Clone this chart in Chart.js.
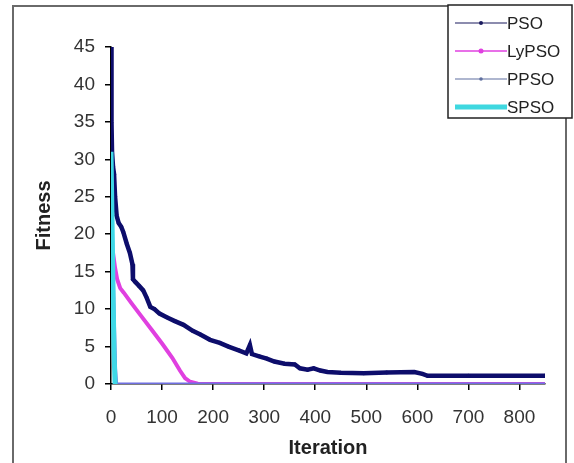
<!DOCTYPE html>
<html>
<head>
<meta charset="utf-8">
<script src="https://cdn.jsdelivr.net/npm/chart.js@4"></script>
<style>
    html, body { margin: 0; padding: 0; background: #fff; }
    #wrap { position: relative; width: 574px; height: 463px; overflow: hidden; }
    #frame { position: absolute; left: 12px; top: 5px; width: 551px; height: 470px; border: 2px solid #6a6a6a; }
    #chart { position: absolute; left: 0; top: 0; }
</style>
</head>
<body>
<div id="wrap">
    <div id="frame"></div>
    <canvas id="chart" width="574" height="463"></canvas>
</div>
<script>
// values
const psoIter = [0, 1, 2, 4, 6, 8, 11, 15, 20, 24, 31, 37, 42, 43, 48, 55, 63, 70, 77, 85, 95, 109, 125, 142, 160, 175, 194, 213, 230, 250, 265, 272, 276, 290, 305, 320, 340, 360, 370, 385, 397, 410, 424, 450, 495, 540, 594, 610, 620, 700, 850];
const psoFit  = [45, 35, 31, 29, 28, 25, 22.5, 21.5, 21, 20.3, 18.7, 17.5, 16, 14, 13.6, 13.1, 12.5, 11.5, 10.3, 10.0, 9.4, 8.9, 8.4, 7.9, 7.1, 6.6, 5.9, 5.5, 5.0, 4.5, 4.1, 5.2, 4.0, 3.7, 3.4, 3.0, 2.7, 2.6, 2.1, 1.9, 2.1, 1.8, 1.6, 1.5, 1.45, 1.55, 1.6, 1.35, 1.1, 1.1, 1.1];

const lyIter = [4, 8, 12, 18, 25, 40, 60, 80, 100, 120, 135, 145, 155, 170, 190, 850];
const lyFit  = [17.5, 15.5, 14, 12.8, 12.2, 10.8, 9.0, 7.2, 5.4, 3.5, 1.8, 0.8, 0.3, 0.05, 0, 0];

const ppsoIter = [0, 3, 6, 9, 11, 850];
const ppsoFit  = [30, 20, 10, 2, 0, 0];

const spsoIter = [0, 2, 4, 6, 8];
const spsoFit  = [31, 22, 12, 4, 0];

const yTicks = [0, 5, 10, 15, 20, 25, 30, 35, 40, 45];
const xTicks = [0, 100, 200, 300, 400, 500, 600, 700, 800];

const FONT = '"Liberation Sans", Arial, sans-serif';

function pairs(xs, ys) {
    return xs.map((x, i) => ({ x: x, y: ys[i] }));
}

// legend drawn in the top right box, like the original
const boxLegend = {
    id: 'boxLegend',
    afterDraw(chart) {
        const ctx = chart.ctx;
        const left = 448, top = 5, right = 572, bottom = 118;
        ctx.save();
        ctx.fillStyle = '#fff';
        ctx.fillRect(left, top, right - left, bottom - top);
        ctx.strokeStyle = '#222';
        ctx.lineWidth = 1.5;
        ctx.strokeRect(left, top, right - left, bottom - top);

        const entries = [
            { label: 'PSO', color: '#1a1a5e', width: 1.2, dot: 2 },
            { label: 'LyPSO', color: '#e040e0', width: 1.5, dot: 2.5 },
            { label: 'PPSO', color: '#5f6f9f', width: 1.2, dot: 1.8 },
            { label: 'SPSO', color: '#3fd8e0', width: 5, dot: 0 }
        ];
        ctx.font = '17px ' + FONT;
        ctx.textBaseline = 'middle';
        entries.forEach((e, i) => {
            const y = 23 + i * 28;
            ctx.strokeStyle = e.color;
            ctx.lineWidth = e.width;
            ctx.beginPath();
            ctx.moveTo(455, y);
            ctx.lineTo(507, y);
            ctx.stroke();
            if (e.dot) {
                ctx.fillStyle = e.color;
                ctx.beginPath();
                ctx.arc(481, y, e.dot, 0, Math.PI * 2);
                ctx.fill();
            }
            ctx.fillStyle = '#222';
            ctx.fillText(e.label, 507, y + 1);
        });
        ctx.restore();
    }
};

new Chart(document.getElementById('chart'), {
    type: 'line',
    data: {
        datasets: [
            {
                label: 'PSO',
                data: pairs(psoIter, psoFit),
                borderColor: '#0d0d6b',
                backgroundColor: '#0d0d6b',
                borderWidth: 4.5,
                pointRadius: 2,
                pointBorderWidth: 0,
                tension: 0,
                order: 1
            },
            {
                label: 'LyPSO',
                data: pairs(lyIter, lyFit),
                borderColor: '#e040e0',
                backgroundColor: '#e040e0',
                borderWidth: 4,
                pointRadius: 0,
                tension: 0,
                order: 2
            },
            {
                label: 'PPSO',
                data: pairs(ppsoIter, ppsoFit),
                borderColor: '#6f6fe0',
                backgroundColor: '#2c5a7a',
                borderWidth: 3,
                pointRadius: 0,
                tension: 0,
                order: 0
            },
            {
                label: 'SPSO',
                data: pairs(spsoIter, spsoFit),
                borderColor: '#3fd8e6',
                backgroundColor: '#3fd8e6',
                borderWidth: 5,
                pointRadius: 0,
                tension: 0,
                order: -1
            }
        ]
    },
    options: {
        responsive: false,
        animation: false,
        devicePixelRatio: 1,
        layout: {
            padding: { top: 47, right: 29, left: 0, bottom: 0 }
        },
        plugins: {
            legend: { display: false },
            tooltip: { enabled: false }
        },
        scales: {
            x: {
                type: 'linear',
                min: 0,
                max: 850,
                afterFit: s => { s.height = 79; },
                afterBuildTicks: s => { s.ticks = xTicks.map(v => ({ value: v })); },
                border: { color: '#000', width: 1.5 },
                grid: { drawOnChartArea: false, drawTicks: true, tickLength: 6, color: '#000', lineWidth: 1.5 },
                ticks: { color: '#333', font: { family: FONT, size: 19 }, padding: 16, maxRotation: 0 },
                title: {
                    display: true,
                    text: 'Iteration',
                    color: '#222',
                    font: { family: FONT, size: 20, weight: 'bold' },
                    padding: { top: 0, bottom: 3 }
                }
            },
            y: {
                min: 0,
                max: 45,
                afterFit: s => { s.width = 111; },
                afterBuildTicks: s => { s.ticks = yTicks.map(v => ({ value: v })); },
                border: { color: '#000', width: 1.5 },
                grid: { drawOnChartArea: false, drawTicks: true, tickLength: 6, color: '#000', lineWidth: 1.5 },
                ticks: { color: '#333', font: { family: FONT, size: 19 }, padding: 10 },
                title: {
                    display: true,
                    text: 'Fitness',
                    color: '#222',
                    font: { family: FONT, size: 20, weight: 'bold' },
                    padding: { top: 32, bottom: 0 }
                }
            }
        }
    },
    plugins: [boxLegend]
});
</script>
</body>
</html>
